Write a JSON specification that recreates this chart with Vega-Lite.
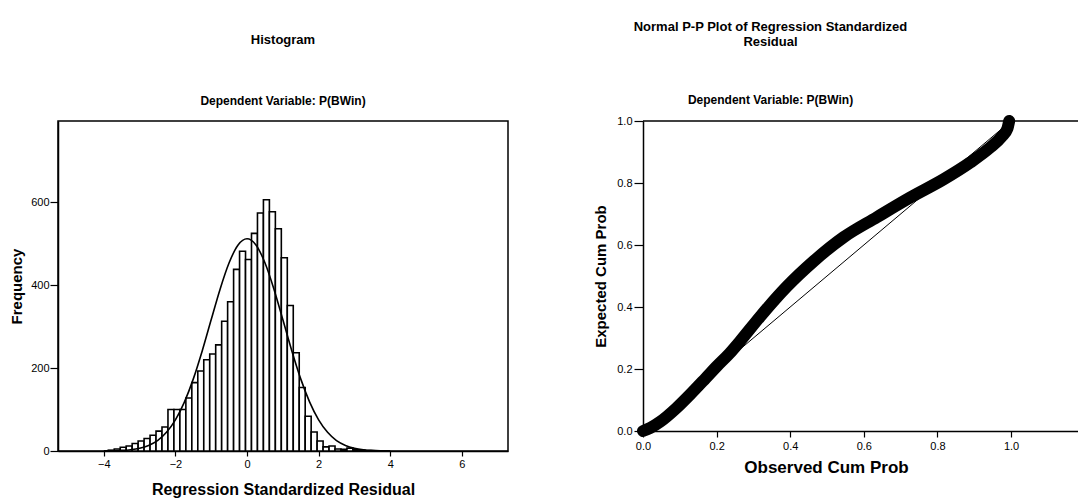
{
  "$schema": "https://vega.github.io/schema/vega-lite/v6.json",
  "background": "white",
  "padding": {"left": 8, "top": 21, "right": 0, "bottom": 0},
  "spacing": 84,
  "config": {
    "font": "Liberation Sans",
    "view": {"stroke": "black", "strokeWidth": 1.5},
    "axis": {
      "grid": false,
      "labelFlush": false,
      "domainColor": "black",
      "domainWidth": 1.5,
      "tickColor": "black",
      "tickWidth": 1.2,
      "labelColor": "black",
      "labelFont": "Liberation Sans",
      "labelFontSize": 11,
      "titleFont": "Liberation Sans",
      "titleFontWeight": "bold",
      "titleColor": "black"
    },
    "title": {
      "font": "Liberation Sans",
      "fontWeight": "bold",
      "color": "black",
      "subtitleFont": "Liberation Sans",
      "subtitleFontWeight": "bold",
      "subtitleColor": "black"
    }
  },
  "hconcat": [
    {
      "width": 450,
      "height": 330,
      "title": {
        "text": "Histogram",
        "subtitle": "Dependent Variable: P(BWin)",
        "fontSize": 13,
        "subtitleFontSize": 12,
        "subtitlePadding": 49,
        "offset": 14,
        "anchor": "middle"
      },
      "layer": [
        {
          "data": {
            "values": [
              {"lo": -3.875, "hi": -3.7083, "n": 2},
              {"lo": -3.7083, "hi": -3.5417, "n": 5},
              {"lo": -3.5417, "hi": -3.375, "n": 9},
              {"lo": -3.375, "hi": -3.2083, "n": 12},
              {"lo": -3.2083, "hi": -3.0417, "n": 18},
              {"lo": -3.0417, "hi": -2.875, "n": 24},
              {"lo": -2.875, "hi": -2.7083, "n": 30},
              {"lo": -2.7083, "hi": -2.5417, "n": 38},
              {"lo": -2.5417, "hi": -2.375, "n": 48},
              {"lo": -2.375, "hi": -2.2083, "n": 58},
              {"lo": -2.2083, "hi": -2.0417, "n": 100},
              {"lo": -2.0417, "hi": -1.875, "n": 100},
              {"lo": -1.875, "hi": -1.7083, "n": 100},
              {"lo": -1.7083, "hi": -1.5417, "n": 128},
              {"lo": -1.5417, "hi": -1.375, "n": 165},
              {"lo": -1.375, "hi": -1.2083, "n": 193},
              {"lo": -1.2083, "hi": -1.0417, "n": 220},
              {"lo": -1.0417, "hi": -0.875, "n": 234},
              {"lo": -0.875, "hi": -0.7083, "n": 256},
              {"lo": -0.7083, "hi": -0.5417, "n": 313},
              {"lo": -0.5417, "hi": -0.375, "n": 360},
              {"lo": -0.375, "hi": -0.2083, "n": 438},
              {"lo": -0.2083, "hi": -0.0417, "n": 482},
              {"lo": -0.0417, "hi": 0.125, "n": 462},
              {"lo": 0.125, "hi": 0.2917, "n": 525},
              {"lo": 0.2917, "hi": 0.4583, "n": 574},
              {"lo": 0.4583, "hi": 0.625, "n": 606},
              {"lo": 0.625, "hi": 0.7917, "n": 577},
              {"lo": 0.7917, "hi": 0.9583, "n": 536},
              {"lo": 0.9583, "hi": 1.125, "n": 466},
              {"lo": 1.125, "hi": 1.2917, "n": 351},
              {"lo": 1.2917, "hi": 1.4583, "n": 237},
              {"lo": 1.4583, "hi": 1.625, "n": 153},
              {"lo": 1.625, "hi": 1.7917, "n": 84},
              {"lo": 1.7917, "hi": 1.9583, "n": 46},
              {"lo": 1.9583, "hi": 2.125, "n": 24},
              {"lo": 2.125, "hi": 2.2917, "n": 10},
              {"lo": 2.2917, "hi": 2.4583, "n": 12},
              {"lo": 2.4583, "hi": 2.625, "n": 5},
              {"lo": 2.625, "hi": 2.7917, "n": 4},
              {"lo": 2.7917, "hi": 2.9583, "n": 7},
              {"lo": 2.9583, "hi": 3.125, "n": 3},
              {"lo": 3.125, "hi": 3.2917, "n": 2},
              {"lo": 3.2917, "hi": 3.4583, "n": 1}
            ]
          },
          "mark": {"type": "rect", "fill": "white", "stroke": "black", "strokeWidth": 1.6},
          "encoding": {
            "x": {
              "field": "lo",
              "type": "quantitative",
              "scale": {"domain": [-5.28, 7.29], "nice": false, "zero": false},
              "axis": {
                "values": [-4, -2, 0, 2, 4, 6],
                "tickSize": 5,
                "labelPadding": 2,
                "title": "Regression Standardized Residual",
                "titleFontSize": 16,
                "titlePadding": 12
              }
            },
            "x2": {"field": "hi"},
            "y": {
              "field": "n",
              "type": "quantitative",
              "scale": {"domain": [0, 796], "nice": false},
              "axis": {
                "values": [0, 200, 400, 600],
                "tickSize": 8,
                "labelPadding": 1,
                "title": "Frequency",
                "titleFontSize": 15,
                "titlePadding": 6
              }
            },
            "y2": {"datum": 0}
          }
        },
        {
          "data": {
            "values": [
              {"x": -4, "y": 0.2}, {"x": -3.75, "y": 0.6}, {"x": -3.5, "y": 1.4},
              {"x": -3.25, "y": 3.2}, {"x": -3, "y": 6.8}, {"x": -2.75, "y": 13.5},
              {"x": -2.5, "y": 25}, {"x": -2.25, "y": 45}, {"x": -2, "y": 75},
              {"x": -1.75, "y": 118}, {"x": -1.5, "y": 174}, {"x": -1.25, "y": 242},
              {"x": -1, "y": 317}, {"x": -0.75, "y": 391}, {"x": -0.5, "y": 454},
              {"x": -0.25, "y": 497}, {"x": 0, "y": 512}, {"x": 0.25, "y": 497},
              {"x": 0.5, "y": 454}, {"x": 0.75, "y": 391}, {"x": 1, "y": 317},
              {"x": 1.25, "y": 242}, {"x": 1.5, "y": 174}, {"x": 1.75, "y": 118},
              {"x": 2, "y": 75}, {"x": 2.25, "y": 45}, {"x": 2.5, "y": 25},
              {"x": 2.75, "y": 13.5}, {"x": 3, "y": 6.8}, {"x": 3.25, "y": 3.2},
              {"x": 3.5, "y": 1.4}, {"x": 3.75, "y": 0.6}, {"x": 4, "y": 0.2}
            ]
          },
          "mark": {"type": "line", "color": "black", "strokeWidth": 1.6, "interpolate": "monotone"},
          "encoding": {
            "x": {"field": "x", "type": "quantitative"},
            "y": {"field": "y", "type": "quantitative"}
          }
        }
      ]
    },
    {
      "width": 435,
      "height": 310,
      "view": {"stroke": null},
      "title": {
        "text": ["Normal P-P Plot of Regression Standardized", "Residual"],
        "subtitle": "Dependent Variable: P(BWin)",
        "fontSize": 13,
        "lineHeight": 15,
        "subtitleFontSize": 12,
        "subtitlePadding": 46,
        "offset": 9,
        "anchor": "middle",
        "dx": -90
      },
      "layer": [
        {
          "data": {"values": [{"ref": 1}]},
          "mark": {"type": "rule", "color": "black", "strokeWidth": 1.5},
          "encoding": {
            "y": {"field": "ref", "type": "quantitative"}
          }
        },
        {
          "data": {"values": [{"ox": 0, "ex": 0}, {"ox": 1, "ex": 1}]},
          "mark": {"type": "line", "color": "black", "strokeWidth": 1},
          "encoding": {
            "x": {"field": "ox", "type": "quantitative"},
            "y": {"field": "ex", "type": "quantitative"}
          }
        },
        {
          "data": {
            "values": [
              {"ox": 0.0, "ex": 0.0},
              {"ox": 0.02, "ex": 0.01},
              {"ox": 0.047, "ex": 0.03},
              {"ox": 0.09, "ex": 0.073},
              {"ox": 0.13, "ex": 0.12},
              {"ox": 0.17, "ex": 0.17},
              {"ox": 0.2, "ex": 0.208},
              {"ox": 0.235, "ex": 0.25},
              {"ox": 0.264, "ex": 0.29},
              {"ox": 0.319, "ex": 0.37},
              {"ox": 0.391, "ex": 0.466},
              {"ox": 0.464, "ex": 0.548},
              {"ox": 0.545, "ex": 0.625},
              {"ox": 0.636, "ex": 0.69},
              {"ox": 0.726, "ex": 0.753},
              {"ox": 0.817, "ex": 0.812},
              {"ox": 0.889, "ex": 0.866},
              {"ox": 0.944, "ex": 0.915},
              {"ox": 0.975, "ex": 0.95},
              {"ox": 0.99, "ex": 0.975},
              {"ox": 0.995, "ex": 1.0}
            ]
          },
          "mark": {"type": "line", "color": "black", "strokeWidth": 12, "strokeCap": "round", "strokeJoin": "round", "interpolate": "monotone"},
          "encoding": {
            "x": {
              "field": "ox",
              "type": "quantitative",
              "scale": {"domain": [0, 1.182], "nice": false},
              "axis": {
                "values": [0, 0.2, 0.4, 0.6, 0.8, 1.0],
                "format": ".1f",
                "tickSize": 6,
                "labelPadding": 3,
                "title": "Observed Cum Prob",
                "titleFontSize": 17,
                "titlePadding": 8,
                "titleX": 183
              }
            },
            "y": {
              "field": "ex",
              "type": "quantitative",
              "scale": {"domain": [0, 1], "nice": false},
              "axis": {
                "values": [0, 0.2, 0.4, 0.6, 0.8, 1.0],
                "format": ".1f",
                "tickSize": 9,
                "labelPadding": 2,
                "title": "Expected Cum Prob",
                "titleFontSize": 15,
                "titlePadding": 8
              }
            }
          }
        }
      ]
    }
  ]
}
